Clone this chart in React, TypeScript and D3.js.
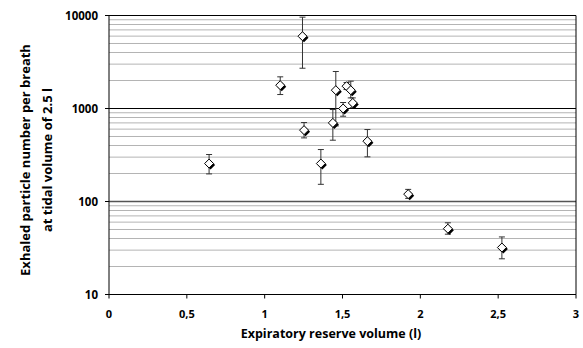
import * as d3 from "d3";

// expiratory reserve volume (l)
const erv = [0.643, 1.10, 1.243, 1.253, 1.361, 1.438, 1.457, 1.504, 1.526, 1.553, 1.566, 1.66, 1.922, 2.177, 2.524];
// exhaled particles per breath
const particles = [256, 1780, 5990, 585, 256, 700, 1574, 1000, 1738, 1574, 1148, 445, 120, 51, 32];
const errHigh = [320, 2190, 9600, 706, 362, 975, 2500, 1160, 1900, 1967, 1300, 594, 135, 59, 41.6];
const errLow = [198, 1413, 2710, 483, 153, 456, 650, 826, 1600, 1300, 1020, 302, 108, 44.5, 24.2];

const xTicks = [0, 0.5, 1, 1.5, 2, 2.5, 3];
const yMajor = [10, 100, 1000, 10000];

const W = 583, H = 348;
const left = 109, right = 576, top = 15.5, bottom = 294.5;
const font = "'Open Sans', 'DejaVu Sans', sans-serif";

export default function App() {
  const x = d3.scaleLinear().domain([0, 3]).range([left, right]);
  const y = d3.scaleLog().domain([10, 10000]).range([bottom, top]);

  // minor gridlines 2..9 per decade
  const minor: number[] = [];
  [10, 100, 1000].forEach(d => {
    for (let k = 2; k <= 9; k++) minor.push(d * k);
  });

  const r = 4.5;
  const diamond = (cx: number, cy: number) =>
    `M${cx},${cy - r}L${cx + r},${cy}L${cx},${cy + r}L${cx - r},${cy}Z`;

  return (
    <svg width={W} height={H} style={{ position: "absolute", left: 0, top: 0, background: "#fff" }}>
      {minor.map(v => (
        <line key={"m" + v} x1={left} x2={right} y1={y(v)} y2={y(v)} stroke="#b4b4b4" strokeWidth={1} />
      ))}
      {yMajor.map(v => (
        <line key={"g" + v} x1={left} x2={right} y1={y(v)} y2={y(v)}
          stroke={v === 100 ? "#555" : "#000"} strokeWidth={v === 100 ? 1.6 : 1} />
      ))}
      {/* frame */}
      <line x1={left} x2={left} y1={top} y2={bottom} stroke="#000" />
      <line x1={right} x2={right} y1={top} y2={bottom} stroke="#000" />
      <line x1={left} x2={right} y1={bottom} y2={bottom} stroke="#000" />
      {xTicks.map(t => (
        <g key={"xt" + t}>
          <line x1={x(t)} x2={x(t)} y1={bottom} y2={bottom + 4} stroke="#000" />
          <text x={x(t)} y={318} textAnchor="middle" fontFamily={font} fontWeight="bold" fontSize={11}>
            {String(t).replace(".", ",")}
          </text>
        </g>
      ))}
      {yMajor.map(v => (
        <g key={"yt" + v}>
          <line x1={left - 4} x2={left} y1={y(v)} y2={y(v)} stroke="#000" />
          <text x={98} y={y(v) + 4} textAnchor="end" fontFamily={font} fontWeight="bold" fontSize={11.5}>
            {v}
          </text>
        </g>
      ))}
      {/* error bars */}
      {erv.map((e, i) => (
        <g key={"e" + i} stroke="#333" strokeWidth={1}>
          <line x1={x(e)} x2={x(e)} y1={y(errHigh[i])} y2={y(errLow[i])} />
          <line x1={x(e) - 3} x2={x(e) + 3} y1={y(errHigh[i])} y2={y(errHigh[i])} />
          <line x1={x(e) - 3} x2={x(e) + 3} y1={y(errLow[i])} y2={y(errLow[i])} />
        </g>
      ))}
      {/* markers */}
      {erv.map((e, i) => (
        <g key={"p" + i}>
          <path d={diamond(x(e) + 1.5, y(particles[i]) + 1.5)} fill="#000" />
          <path d={diamond(x(e), y(particles[i]))} fill="#fff" stroke="#000" strokeWidth={1} />
        </g>
      ))}
      <text x={331} y={338} textAnchor="middle" fontFamily={font} fontWeight="bold" fontSize={12.5}>
        Expiratory reserve volume (l)
      </text>
      <text transform="translate(30,160) rotate(-90)" textAnchor="middle" fontFamily={font} fontWeight="bold" fontSize={13}>
        Exhaled particle number per breath
      </text>
      <text transform="translate(52,160) rotate(-90)" textAnchor="middle" fontFamily={font} fontWeight="bold" fontSize={13}>
        at tidal volume of 2.5 l
      </text>
    </svg>
  );
}
